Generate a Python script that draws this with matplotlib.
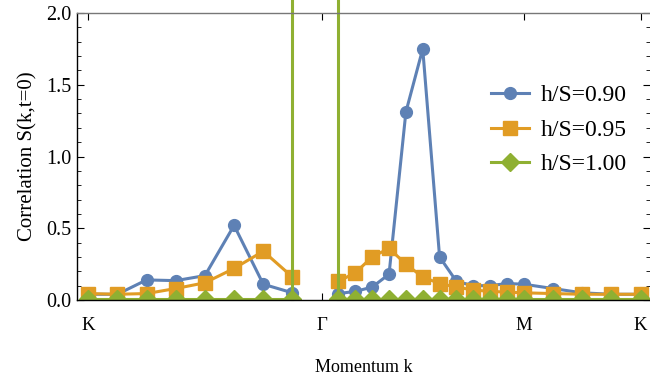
import numpy as np
import matplotlib
matplotlib.use("Agg")
from matplotlib import pyplot as plt
from matplotlib.ticker import MultipleLocator

plt.rcParams['font.family'] = ['Liberation Serif', 'DejaVu Serif']
plt.rcParams['mathtext.fontset'] = 'stix'

# high symmetry points of the path K - Gamma - M - K (triangular lattice)
kG = 4 * np.pi / 3
kM = kG + 2 * np.pi / np.sqrt(3)
kK = kM + 2 * np.pi / 3
tick_pos = [0, kG, kM, kK]
tick_lab = ['K', '\u0393', 'M', 'K']

# momentum grid: K -> Gamma (8 pts), Gamma -> M (12 pts), M -> K (4 pts)
k_left = np.arange(8) * kG / 8
k_right = np.concatenate([kG + np.arange(1, 13) * (kM - kG) / 12,
                          kM + np.arange(1, 5) * (kK - kM) / 4])

labels = ['h/S=0.90', 'h/S=0.95', 'h/S=1.00']
colors = ['#5E81B5', '#E19C24', '#8FB032']
markers = ['o', 's', 'D']
msizes = [8.5, 10.5, 9.5]

blue_left = [0.04, 0.04, 0.14, 0.135, 0.17, 0.52, 0.11, 0.05]
orange_left = [0.045, 0.04, 0.045, 0.08, 0.12, 0.22, 0.34, 0.16]
green_left = [0.01, 0.01, 0.01, 0.01, 0.01, 0.01, 0.01, 0.01]

blue_right = [0.045, 0.06, 0.09, 0.18, 1.31, 1.75, 0.30, 0.13,
              0.10, 0.10, 0.115, 0.11, 0.08, 0.05, 0.04, 0.04]
orange_right = [0.13, 0.19, 0.30, 0.36, 0.25, 0.16, 0.115, 0.09,
                0.07, 0.06, 0.055, 0.05, 0.045, 0.04, 0.04, 0.04]
green_right = [0.01, 0.01, 0.01, 0.01, 0.01, 0.01, 0.01, 0.01,
               0.01, 0.01, 0.01, 0.01, 0.01, 0.01, 0.01, 0.01]

# h/S=1.00 diverges next to Gamma
green_peak = 3.0

fig = plt.figure(figsize=(6.5, 3.76), dpi=100)
ax = fig.add_axes([0.1185, 0.2021, 0.8815, 0.7633])

series = [(blue_left, blue_right), (orange_left, orange_right), (green_left, green_right)]
for (yl, yr), lab, c, m, ms in zip(series, labels, colors, markers, msizes):
    ax.plot(k_left, yl, color=c, lw=2.2, marker=m, ms=ms, label=lab)
    ax.plot(k_right, yr, color=c, lw=2.2, marker=m, ms=ms)

ax.plot([k_left[-1], k_left[-1]], [green_left[-1], green_peak], color=colors[2],
        lw=2.2, clip_on=False)
ax.plot([k_right[0], k_right[0]], [green_right[0], green_peak], color=colors[2],
        lw=2.2, clip_on=False)

ax.set_xlim(-0.2, 10.08)
ax.set_ylim(0, 2.0)
ax.set_xticks(tick_pos)
ax.set_xticklabels(tick_lab)
ax.yaxis.set_major_locator(MultipleLocator(0.5))
ax.yaxis.set_minor_locator(MultipleLocator(0.1))
ax.yaxis.set_major_formatter(matplotlib.ticker.FormatStrFormatter('%.1f'))

ax.tick_params(axis='both', which='both', direction='in', top=True, right=True)
ax.tick_params(axis='y', which='major', length=5, pad=4, labelsize=14.5)
ax.tick_params(axis='y', which='minor', length=3)
ax.tick_params(axis='x', which='major', length=5, pad=12, labelsize=13.5)

ax.spines['top'].set_color('#777777')
ax.spines['right'].set_visible(False)
for s in ['left', 'bottom', 'top']:
    ax.spines[s].set_linewidth(1.0)

ax.set_xlabel('Momentum k', fontsize=13, labelpad=18)
ax.set_ylabel('Correlation S(k,t=0)', fontsize=15, labelpad=6)

ax.legend(loc='upper left', bbox_to_anchor=(0.686, 0.824), frameon=False,
          fontsize=17, handlelength=1.6, handletextpad=0.5, labelspacing=0.55,
          borderpad=0.4)

fig.savefig('out.png', dpi=100)
